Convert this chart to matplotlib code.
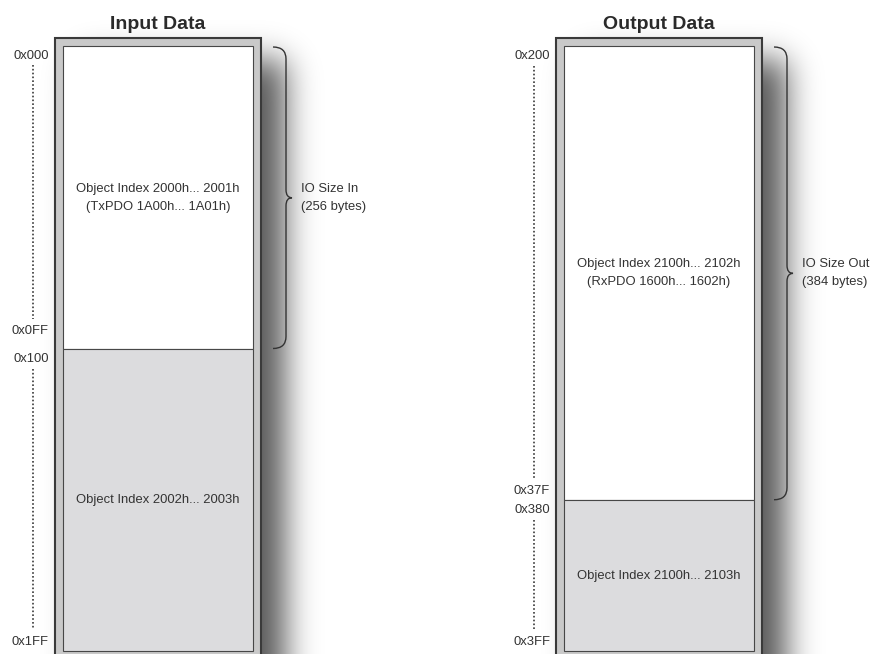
import math
import numpy as np
import matplotlib
matplotlib.use("Agg")
import matplotlib.pyplot as plt
import matplotlib.transforms as mtransforms
from matplotlib.path import Path
from matplotlib.patches import PathPatch, Rectangle

plt.rcParams['font.family'] = ['Liberation Sans', 'DejaVu Sans']

# ---------------- data ----------------
block_titles = ["Input Data", "Output Data"]
region_start = [0x000, 0x200]
region_split = [0x100, 0x380]
region_end = [0x200, 0x400]
upper_text = [["Object Index 2000h... 2001h", "(TxPDO 1A00h... 1A01h)"],
              ["Object Index 2100h... 2102h", "(RxPDO 1600h... 1602h)"]]
lower_text = [["Object Index 2002h... 2003h"],
              ["Object Index 2100h... 2103h"]]
brace_text = [["IO Size In", "(256 bytes)"],
              ["IO Size Out", "(384 bytes)"]]
addr_text = [["0x000", "0x0FF", "0x100", "0x1FF"],
             ["0x200", "0x37F", "0x380", "0x3FF"]]

# ---------------- style / layout (pixels) ----------------
W, H = 875, 654
panel_left = [63, 564]
panel_top = 46
panel_w = 190
panel_h = 605
frame_pad = 8
span_units = 512
label_dy = [[8, -19, 9, -11], [8.5, -10, 9, -11]]  # px, + = down
text_color = "#333333"
fs = 9.4
base_shift = 4.6   # visual centre -> baseline (px)
line_gap = 18

fig = plt.figure(figsize=(W / 100, H / 100), dpi=100)
bg = fig.add_axes([0, 0, 1, 1])
bg.set_xlim(0, W)
bg.set_ylim(H, 0)
bg.axis("off")

# drop shadows (blurred rectangles, separable)
erf = np.vectorize(math.erf)
def Phi(z):
    return 0.5 * (1 + erf(z / math.sqrt(2)))

xs = np.arange(W) + 0.5
ys = np.arange(H) + 0.5
alpha = np.zeros((H, W))
s = 16.0
for pl in panel_left:
    ox0 = pl - frame_pad
    ox1 = pl + panel_w + frame_pad
    oy0 = panel_top - frame_pad
    x0, x1 = ox0 + 25, ox1 + 24
    y0, y1 = oy0 + 22, H + 200
    fx = Phi((xs - x0) / s) - Phi((xs - x1) / s)
    fy = Phi((ys - y0) / s) - Phi((ys - y1) / s)
    alpha += 0.66 * np.outer(fy, fx)
img = np.zeros((H, W, 4))
img[..., 3] = np.clip(alpha, 0, 1)
bg.imshow(img, extent=(0, W, H, 0), interpolation="bilinear", zorder=0, aspect="auto")

# outer frames
for pl in panel_left:
    bg.add_patch(Rectangle((pl - frame_pad, panel_top - frame_pad),
                           panel_w + 2 * frame_pad, panel_h + 40,
                           facecolor="#c9c9c9", edgecolor="#3a3a3a",
                           linewidth=1.5, zorder=2))

# ---------------- blocks ----------------
for b in range(2):
    ax = fig.add_axes([panel_left[b] / W, (H - panel_top - panel_h) / H,
                       panel_w / W, panel_h / H])
    ax.set_zorder(5)
    ax.patch.set_alpha(0)
    ax.set_xlim(0, 1)
    st, sp, en = region_start[b], region_split[b], region_end[b]
    ax.set_ylim(st + span_units, st)
    ax.axis("off")
    u = span_units / panel_h  # data units per pixel

    bars = ax.bar([0.5, 0.5], [sp - st, en - sp], bottom=[st, sp], width=1,
                  color=["white", "#dcdcde"], edgecolor="#474747",
                  linewidth=0.8, zorder=3)
    for r in bars:
        r.set_clip_on(False)

    blend = mtransforms.blended_transform_factory(ax.transAxes, ax.transData)

    # title
    ax.annotate(block_titles[b], xy=(0.5, st), xycoords=blend,
                xytext=(0, 17), textcoords="offset pixels",
                ha="center", va="baseline", fontsize=14, fontweight="bold",
                color="#2a2a2a", annotation_clip=False)

    # region texts
    def lines_at(lines, mid, xfrac, ha):
        n = len(lines)
        for i, t in enumerate(lines):
            off = -1 + (i - (n - 1) / 2) * line_gap + base_shift
            ax.annotate(t, xy=(xfrac, mid), xycoords=blend,
                        xytext=(0, -off), textcoords="offset pixels",
                        ha=ha, va="baseline", fontsize=fs, color=text_color,
                        annotation_clip=False)
    lines_at(upper_text[b], (st + sp) / 2, 0.5, "center")
    lines_at(lower_text[b], (sp + en) / 2, 0.5, "center")
    lines_at(brace_text[b], (st + sp) / 2, 238 / panel_w, "left")

    # address labels
    anchors = [st, sp, sp, en]
    for k, (t, a) in enumerate(zip(addr_text[b], anchors)):
        ax.annotate(t, xy=(0, a), xycoords=blend,
                    xytext=(-14, -(label_dy[b][k] + base_shift)),
                    textcoords="offset pixels", ha="right", va="baseline",
                    fontsize=fs, color=text_color, annotation_clip=False)

    # dotted guide lines
    xd = -30 / panel_w
    for k0, k1 in [(0, 1), (2, 3)]:
        ya = anchors[k0] + (label_dy[b][k0] + 11) * u
        yb = anchors[k1] + (label_dy[b][k1] - 11) * u
        ax.plot([xd, xd], [ya, yb], transform=blend, color="#3a3a3a",
                linewidth=1.2, linestyle=(0, (1, 1.3)), clip_on=False)

    # curly brace
    xe = 1 + 20 / panel_w
    xv = 1 + 33 / panel_w
    xt = 1 + 39 / panel_w
    r = 12 * u
    r2 = 8 * u
    y0, y1 = st + 1 * u, sp
    ym = (y0 + y1) / 2
    verts = [(xe, y0), (xv, y0), (xv, y0 + r),
             (xv, ym - r2), (xv, ym), (xt, ym),
             (xv, ym), (xv, ym + r2),
             (xv, y1 - r), (xv, y1), (xe, y1)]
    codes = [Path.MOVETO, Path.CURVE3, Path.CURVE3,
             Path.LINETO, Path.CURVE3, Path.CURVE3,
             Path.CURVE3, Path.CURVE3,
             Path.LINETO, Path.CURVE3, Path.CURVE3]
    ax.add_patch(PathPatch(Path(verts, codes), transform=blend,
                           facecolor="none", edgecolor="#333333",
                           linewidth=1.0, clip_on=False))

fig.savefig("out.png", dpi=100)
